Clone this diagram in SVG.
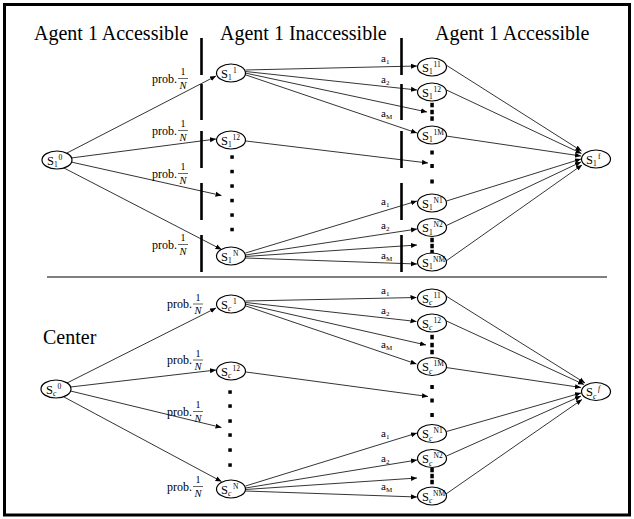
<svg xmlns="http://www.w3.org/2000/svg" width="634" height="519" viewBox="0 0 634 519">
  <defs>
    <marker id="ah" viewBox="0 0 10 10" refX="10" refY="5" markerWidth="6" markerHeight="6" markerUnits="userSpaceOnUse" orient="auto">
      <path d="M0,0.8 L10,5 L0,9.2 z" fill="#000"/>
    </marker>
  </defs>
  <style>
    text { font-family: "Liberation Serif", "Times New Roman", serif; fill: #000; }
    .title { font-size: 20px; }
    .node ellipse { fill: #fff; stroke: #000; stroke-width: 1.2; }
    .S { font-size: 12.5px; }
    .ix { font-size: 7.5px; }
    .it { font-style: italic; }
    .prob { font-size: 12px; }
    .num { font-size: 10px; text-anchor: middle; }
    .den { font-size: 10.5px; font-style: italic; text-anchor: middle; }
    .fbar { stroke: #000; stroke-width: 0.6; }
    .act { font-size: 11px; }
    .acts { font-size: 7px; }
    .edges line { stroke: #000; stroke-width: 0.8; marker-end: url(#ah); }
    .bar { stroke: #000; stroke-width: 2.6; }
    .dot { fill: #000; }
  </style>

  <!-- frame and separator -->
  <rect x="4.5" y="4.5" width="625" height="510.5" fill="#fff" stroke="#000" stroke-width="3"/>
  <line x1="47" y1="277" x2="607" y2="277" stroke="#000" stroke-width="1.2"/>

  <!-- section headings -->
  <text class="title" x="34" y="39.5">Agent 1 Accessible</text>
  <text class="title" x="220" y="39.5">Agent 1 Inaccessible</text>
  <text class="title" x="435" y="39.5">Agent 1 Accessible</text>
  <text class="title" x="43" y="344">Center</text>

  <!-- information barriers -->
  <g id="barriers">
    <line class="bar" x1="201.5" y1="38" x2="201.5" y2="75"/>
    <line class="bar" x1="201.5" y1="84" x2="201.5" y2="120"/>
    <line class="bar" x1="201.5" y1="131" x2="201.5" y2="168"/>
    <line class="bar" x1="201.5" y1="183" x2="201.5" y2="220"/>
    <line class="bar" x1="201.5" y1="235" x2="201.5" y2="272"/>
    <line class="bar" x1="401.5" y1="38" x2="401.5" y2="75"/>
    <line class="bar" x1="401.5" y1="84" x2="401.5" y2="120"/>
    <line class="bar" x1="401.5" y1="131" x2="401.5" y2="168"/>
    <line class="bar" x1="401.5" y1="183" x2="401.5" y2="220"/>
    <line class="bar" x1="401.5" y1="235" x2="401.5" y2="272"/>
  </g>

  <!-- ellipsis dots -->
  <g id="ellipses-dots">
    <rect class="dot" x="230.3" y="155.3" width="3.5" height="3.5"/>
    <rect class="dot" x="230.3" y="169.8" width="3.5" height="3.5"/>
    <rect class="dot" x="230.3" y="184.3" width="3.5" height="3.5"/>
    <rect class="dot" x="230.3" y="198.8" width="3.5" height="3.5"/>
    <rect class="dot" x="230.3" y="213.3" width="3.5" height="3.5"/>
    <rect class="dot" x="230.3" y="227.8" width="3.5" height="3.5"/>
    <rect class="dot" x="430.3" y="102.8" width="3.5" height="4.5"/>
    <rect class="dot" x="430.3" y="109.8" width="3.5" height="4.5"/>
    <rect class="dot" x="430.3" y="116.3" width="3.5" height="4.5"/>
    <rect class="dot" x="430.3" y="150.5" width="3.5" height="4"/>
    <rect class="dot" x="430.3" y="164" width="3.5" height="4"/>
    <rect class="dot" x="430.3" y="179.5" width="3.5" height="4"/>
    <rect class="dot" x="430.3" y="237.8" width="3.5" height="4.5"/>
    <rect class="dot" x="430.3" y="243.8" width="3.5" height="4.5"/>
    <rect class="dot" x="430.3" y="249.8" width="3.5" height="4.5"/>

    <rect class="dot" x="228.3" y="390.3" width="3.5" height="3.5"/>
    <rect class="dot" x="228.3" y="404.3" width="3.5" height="3.5"/>
    <rect class="dot" x="228.3" y="419.3" width="3.5" height="3.5"/>
    <rect class="dot" x="228.3" y="433.3" width="3.5" height="3.5"/>
    <rect class="dot" x="228.3" y="448.3" width="3.5" height="3.5"/>
    <rect class="dot" x="228.3" y="463.3" width="3.5" height="3.5"/>
    <rect class="dot" x="430.3" y="334.8" width="3.5" height="4.5"/>
    <rect class="dot" x="430.3" y="342.8" width="3.5" height="4.5"/>
    <rect class="dot" x="430.3" y="349.8" width="3.5" height="4.5"/>
    <rect class="dot" x="430.3" y="385" width="3.5" height="4"/>
    <rect class="dot" x="430.3" y="398.5" width="3.5" height="4"/>
    <rect class="dot" x="430.3" y="413" width="3.5" height="4"/>
    <rect class="dot" x="430.3" y="467.8" width="3.5" height="4.5"/>
    <rect class="dot" x="430.3" y="473.8" width="3.5" height="4.5"/>
    <rect class="dot" x="430.3" y="479.8" width="3.5" height="4.5"/>
  </g>

  <!-- connectors -->
  <g id="connectors" class="edges">
    <!-- agent 1: chance moves -->
    <line x1="67" y1="153" x2="216" y2="76"/>
    <line x1="71" y1="158" x2="216" y2="139"/>
    <line x1="71" y1="162" x2="221.5" y2="195.5"/>
    <line x1="64" y1="168" x2="221.5" y2="249.5"/>
    <!-- agent 1: actions from first type -->
    <line x1="245.5" y1="70" x2="417" y2="66"/>
    <line x1="245.5" y1="71.5" x2="417" y2="90"/>
    <line x1="245" y1="73" x2="427" y2="112"/>
    <line x1="244.5" y1="74.5" x2="417" y2="133"/>
    <line x1="246" y1="141" x2="428" y2="163"/>
    <!-- agent 1: actions from last type -->
    <line x1="245.5" y1="253" x2="417" y2="201"/>
    <line x1="245.5" y1="255" x2="417" y2="229"/>
    <line x1="245.5" y1="256.5" x2="417" y2="245"/>
    <line x1="245" y1="258" x2="417" y2="264"/>
    <!-- agent 1: into final state -->
    <line x1="446" y1="65" x2="581.5" y2="151"/>
    <line x1="446.5" y1="90" x2="581.5" y2="153.5"/>
    <line x1="446" y1="136" x2="581" y2="156"/>
    <line x1="446.5" y1="201" x2="581" y2="159"/>
    <line x1="446.5" y1="225.5" x2="581" y2="162"/>
    <line x1="446" y1="261" x2="582" y2="165"/>

    <!-- center: chance moves -->
    <line x1="67" y1="383" x2="216" y2="308"/>
    <line x1="70.5" y1="387" x2="216" y2="370"/>
    <line x1="70.5" y1="391" x2="221.5" y2="427.5"/>
    <line x1="64" y1="397" x2="221.5" y2="481.5"/>
    <!-- center: actions from first type -->
    <line x1="245.5" y1="301" x2="416.5" y2="297.5"/>
    <line x1="245.5" y1="302.5" x2="416.5" y2="321.5"/>
    <line x1="245" y1="304" x2="426" y2="345"/>
    <line x1="244.5" y1="305.5" x2="416.5" y2="364"/>
    <line x1="246" y1="372" x2="428" y2="396.5"/>
    <!-- center: actions from last type -->
    <line x1="245.5" y1="486" x2="417" y2="433"/>
    <line x1="245.5" y1="488" x2="417" y2="460"/>
    <line x1="245.5" y1="489.5" x2="417" y2="478"/>
    <line x1="245" y1="491" x2="417" y2="497"/>
    <!-- center: into final state -->
    <line x1="446" y1="296" x2="585" y2="383"/>
    <line x1="446.5" y1="321" x2="584" y2="384.5"/>
    <line x1="446" y1="367.5" x2="581" y2="387.5"/>
    <line x1="446.5" y1="431.5" x2="581" y2="393"/>
    <line x1="446.5" y1="456" x2="581" y2="396"/>
    <line x1="446" y1="494" x2="582" y2="399.5"/>
  </g>

  <!-- probability labels -->
  <g id="prob-labels">
    <text class="prob" x="152" y="83">prob.</text>
    <text class="num" x="183" y="75">1</text><line class="fbar" x1="178" y1="78.5" x2="188" y2="78.5"/><text class="den" x="183" y="88.5">N</text>
    <text class="prob" x="152" y="135">prob.</text>
    <text class="num" x="183" y="127">1</text><line class="fbar" x1="178" y1="130.5" x2="188" y2="130.5"/><text class="den" x="183" y="140.5">N</text>
    <text class="prob" x="152" y="178">prob.</text>
    <text class="num" x="183" y="170">1</text><line class="fbar" x1="178" y1="173.5" x2="188" y2="173.5"/><text class="den" x="183" y="183.5">N</text>
    <text class="prob" x="152" y="249">prob.</text>
    <text class="num" x="183" y="241">1</text><line class="fbar" x1="178" y1="244.5" x2="188" y2="244.5"/><text class="den" x="183" y="254.5">N</text>

    <text class="prob" x="167" y="308">prob.</text>
    <text class="num" x="198" y="300.5">1</text><line class="fbar" x1="193" y1="304" x2="203" y2="304"/><text class="den" x="198" y="314">N</text>
    <text class="prob" x="167" y="364">prob.</text>
    <text class="num" x="198" y="356.5">1</text><line class="fbar" x1="193" y1="360" x2="203" y2="360"/><text class="den" x="198" y="370">N</text>
    <text class="prob" x="167" y="416">prob.</text>
    <text class="num" x="198" y="408">1</text><line class="fbar" x1="193" y1="411.5" x2="203" y2="411.5"/><text class="den" x="198" y="421.5">N</text>
    <text class="prob" x="167" y="490.5">prob.</text>
    <text class="num" x="198" y="483">1</text><line class="fbar" x1="193" y1="486.5" x2="203" y2="486.5"/><text class="den" x="198" y="496.5">N</text>
  </g>

  <!-- action labels -->
  <g id="action-labels">
    <text class="act" x="381" y="62">a<tspan class="acts" dy="2">1</tspan></text>
    <text class="act" x="381" y="83">a<tspan class="acts" dy="2">2</tspan></text>
    <text class="act" x="381" y="117">a<tspan class="acts" dy="2">M</tspan></text>
    <text class="act" x="381" y="205">a<tspan class="acts" dy="2">1</tspan></text>
    <text class="act" x="381" y="229">a<tspan class="acts" dy="2">2</tspan></text>
    <text class="act" x="381" y="259">a<tspan class="acts" dy="2">M</tspan></text>
    <text class="act" x="381" y="294">a<tspan class="acts" dy="2">1</tspan></text>
    <text class="act" x="381" y="313.5">a<tspan class="acts" dy="2">2</tspan></text>
    <text class="act" x="381" y="348">a<tspan class="acts" dy="2">M</tspan></text>
    <text class="act" x="381" y="437">a<tspan class="acts" dy="2">1</tspan></text>
    <text class="act" x="381" y="462">a<tspan class="acts" dy="2">2</tspan></text>
    <text class="act" x="381" y="489.5">a<tspan class="acts" dy="2">M</tspan></text>
  </g>

  <!-- agent 1 states -->
  <g id="s1-0" class="node"><ellipse cx="57" cy="160" rx="15" ry="9"/><text><tspan class="S" x="47" y="164.5">S</tspan><tspan class="ix" x="54" y="167">1</tspan><tspan class="ix" x="58.5" y="159.5">0</tspan></text></g>
  <g id="s1-1" class="node"><ellipse cx="231" cy="73" rx="14.5" ry="9"/><text><tspan class="S" x="221" y="77.5">S</tspan><tspan class="ix" x="228" y="80">1</tspan><tspan class="ix" x="233" y="72.5">1</tspan></text></g>
  <g id="s1-12" class="node"><ellipse cx="231" cy="140" rx="14.5" ry="9"/><text><tspan class="S" x="221" y="144.5">S</tspan><tspan class="ix" x="228" y="147">1</tspan><tspan class="ix" x="232.5" y="139.5">12</tspan></text></g>
  <g id="s1-N" class="node"><ellipse cx="231" cy="256" rx="14.5" ry="9"/><text><tspan class="S" x="221" y="260.5">S</tspan><tspan class="ix" x="228" y="263">1</tspan><tspan class="ix" x="233" y="255.5">N</tspan></text></g>
  <g id="s1-11" class="node"><ellipse cx="432" cy="67" rx="14.5" ry="9"/><text><tspan class="S" x="422" y="71.5">S</tspan><tspan class="ix" x="429" y="74">1</tspan><tspan class="ix" x="433.5" y="66.5">11</tspan></text></g>
  <g id="s1-12b" class="node"><ellipse cx="432" cy="92" rx="14.5" ry="9"/><text><tspan class="S" x="422" y="96.5">S</tspan><tspan class="ix" x="429" y="99">1</tspan><tspan class="ix" x="433.5" y="91.5">12</tspan></text></g>
  <g id="s1-1M" class="node"><ellipse cx="432" cy="135" rx="14.5" ry="9"/><text><tspan class="S" x="422" y="139.5">S</tspan><tspan class="ix" x="429" y="142">1</tspan><tspan class="ix" x="433.5" y="134.5">1M</tspan></text></g>
  <g id="s1-N1" class="node"><ellipse cx="432" cy="203" rx="14.5" ry="9"/><text><tspan class="S" x="422" y="207.5">S</tspan><tspan class="ix" x="429" y="210">1</tspan><tspan class="ix" x="433.5" y="202.5">N1</tspan></text></g>
  <g id="s1-N2" class="node"><ellipse cx="432" cy="227.5" rx="14.5" ry="9"/><text><tspan class="S" x="422" y="232">S</tspan><tspan class="ix" x="429" y="234.5">1</tspan><tspan class="ix" x="433.5" y="227">N2</tspan></text></g>
  <g id="s1-NM" class="node"><ellipse cx="432" cy="262" rx="14.5" ry="9"/><text><tspan class="S" x="422" y="266.5">S</tspan><tspan class="ix" x="429" y="269">1</tspan><tspan class="ix" x="433" y="261.5">NM</tspan></text></g>
  <g id="s1-f" class="node"><ellipse cx="596" cy="159" rx="14.5" ry="9"/><text><tspan class="S" x="586" y="163.5">S</tspan><tspan class="ix" x="593" y="166">1</tspan><tspan class="ix" x="598" y="158.5">f</tspan></text></g>

  <!-- center states -->
  <g id="sc-0" class="node"><ellipse cx="56" cy="389" rx="15" ry="9"/><text><tspan class="S" x="46" y="393.5">S</tspan><tspan class="ix it" x="53" y="396">c</tspan><tspan class="ix" x="57.5" y="388.5">0</tspan></text></g>
  <g id="sc-1" class="node"><ellipse cx="231" cy="304" rx="14.5" ry="9"/><text><tspan class="S" x="221" y="308.5">S</tspan><tspan class="ix it" x="228" y="311">c</tspan><tspan class="ix" x="233" y="303.5">1</tspan></text></g>
  <g id="sc-12" class="node"><ellipse cx="231" cy="371" rx="14.5" ry="9"/><text><tspan class="S" x="221" y="375.5">S</tspan><tspan class="ix it" x="228" y="378">c</tspan><tspan class="ix" x="232.5" y="370.5">12</tspan></text></g>
  <g id="sc-N" class="node"><ellipse cx="231" cy="489" rx="14.5" ry="9"/><text><tspan class="S" x="221" y="493.5">S</tspan><tspan class="ix it" x="228" y="496">c</tspan><tspan class="ix" x="233" y="488.5">N</tspan></text></g>
  <g id="sc-11" class="node"><ellipse cx="432" cy="298" rx="14.5" ry="9"/><text><tspan class="S" x="422" y="302.5">S</tspan><tspan class="ix it" x="429" y="305">c</tspan><tspan class="ix" x="433.5" y="297.5">11</tspan></text></g>
  <g id="sc-12b" class="node"><ellipse cx="432" cy="323" rx="14.5" ry="9"/><text><tspan class="S" x="422" y="327.5">S</tspan><tspan class="ix it" x="429" y="330">c</tspan><tspan class="ix" x="433.5" y="322.5">12</tspan></text></g>
  <g id="sc-1M" class="node"><ellipse cx="432" cy="366.5" rx="14.5" ry="9"/><text><tspan class="S" x="422" y="371">S</tspan><tspan class="ix it" x="429" y="373.5">c</tspan><tspan class="ix" x="433.5" y="366">1M</tspan></text></g>
  <g id="sc-N1" class="node"><ellipse cx="432" cy="433.5" rx="14.5" ry="9"/><text><tspan class="S" x="422" y="438">S</tspan><tspan class="ix it" x="429" y="440.5">c</tspan><tspan class="ix" x="433.5" y="433">N1</tspan></text></g>
  <g id="sc-N2" class="node"><ellipse cx="432" cy="458.5" rx="14.5" ry="9"/><text><tspan class="S" x="422" y="463">S</tspan><tspan class="ix it" x="429" y="465.5">c</tspan><tspan class="ix" x="433.5" y="458">N2</tspan></text></g>
  <g id="sc-NM" class="node"><ellipse cx="432" cy="496" rx="14.5" ry="9"/><text><tspan class="S" x="422" y="500.5">S</tspan><tspan class="ix it" x="429" y="503">c</tspan><tspan class="ix" x="433" y="495.5">NM</tspan></text></g>
  <g id="sc-f" class="node"><ellipse cx="596" cy="391.5" rx="14.5" ry="9"/><text><tspan class="S" x="586" y="396">S</tspan><tspan class="ix it" x="593" y="398.5">c</tspan><tspan class="ix it" x="598" y="391">f</tspan></text></g>
</svg>
